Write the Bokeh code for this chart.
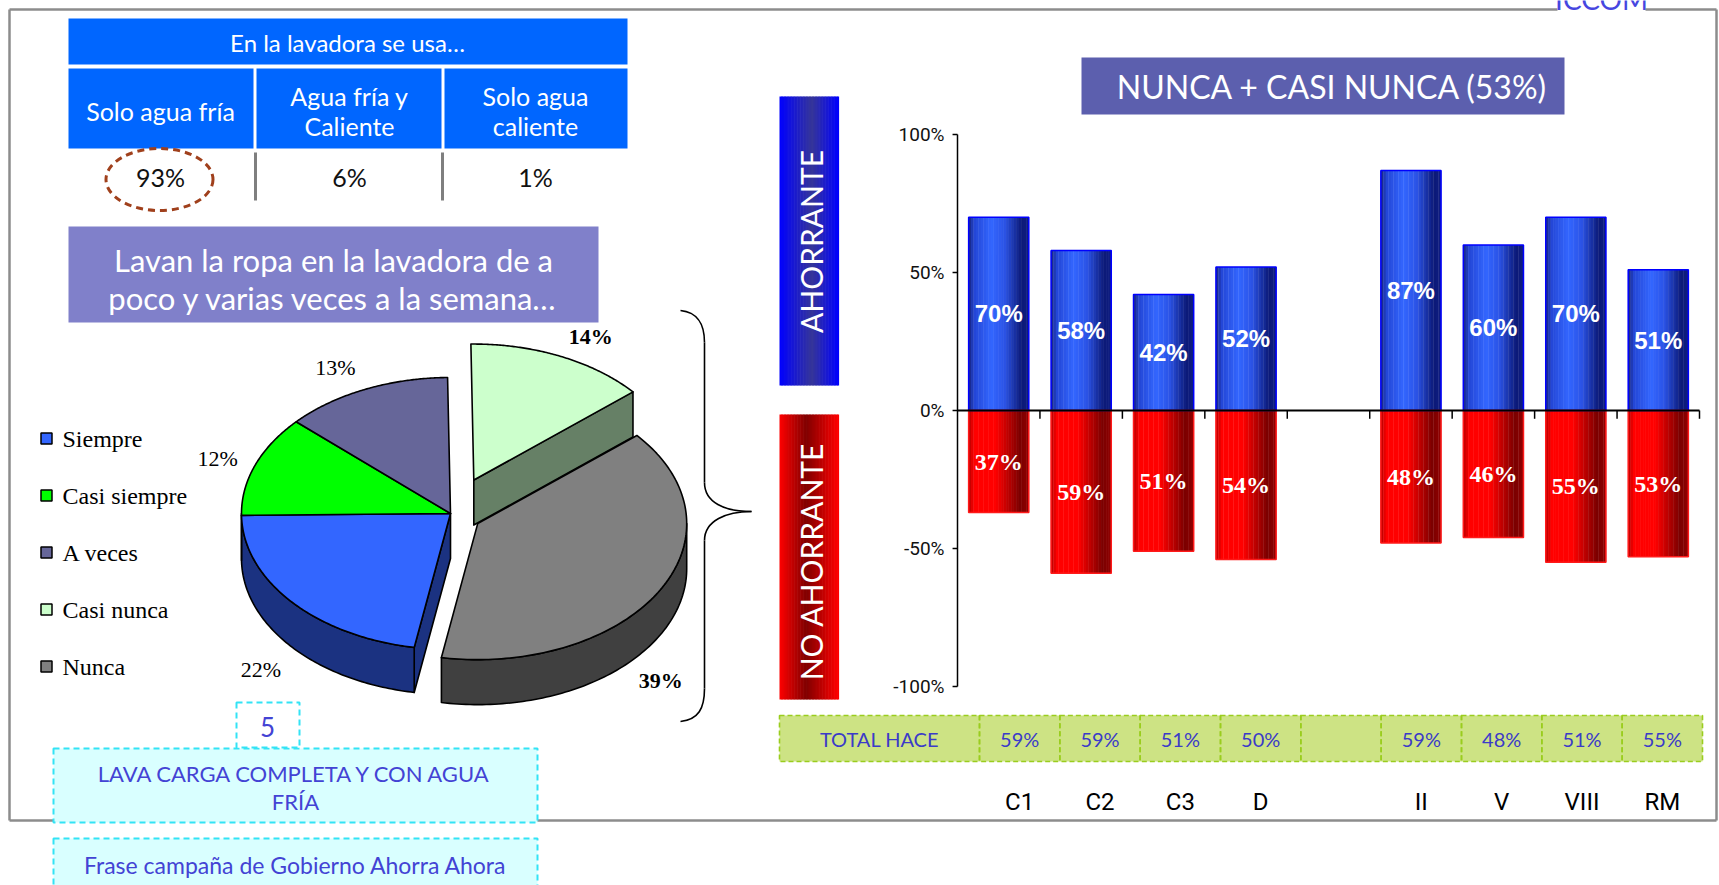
import numpy as np
from bokeh.plotting import figure
from bokeh.models import Range1d
from bokeh.core.properties import value
from bokeh.embed import file_html
from bokeh.resources import INLINE

# ---------------- DATA ----------------
table_title = "En la lavadora se usa…"
water_labels = [["Solo agua fría"], ["Agua fría y", "Caliente"], ["Solo agua", "caliente"]]
water_pct = [93, 6, 1]

freq_title = ["Lavan la ropa en la lavadora de a", "poco y varias veces a la semana…"]
freq_cats = ["Siempre", "Casi siempre", "A veces", "Casi nunca", "Nunca"]
freq_pct = [22, 12, 13, 14, 39]

chart_title = "NUNCA + CASI NUNCA (53%)"
categories = ["C1", "C2", "C3", "D", "", "II", "V", "VIII", "RM"]
ahorrante = [70, 58, 42, 52, None, 87, 60, 70, 51]
no_ahorrante = [37, 59, 51, 54, None, 48, 46, 55, 53]
total_hace = [59, 59, 51, 50, None, 59, 48, 51, 55]
y_ticks = [100, 50, 0, -50, -100]
y_tick_labels = ["100%", "50%", "0%", "-50%", "-100%"]
side_labels = ["AHORRANTE", "NO AHORRANTE"]
total_label = "TOTAL HACE"
action_number = "5"
action_text = ["LAVA CARGA COMPLETA Y CON AGUA", "FRÍA"]
campaign_text = "Frase campaña de Gobierno Ahorra Ahora"
brand = "ICCOM"

# ---------------- FIGURE ----------------
W, H = 1719, 885
p = figure(width=W, height=H, x_range=Range1d(0, W), y_range=Range1d(H, 0),
           output_backend="svg", toolbar_location=None, x_axis_type=None, y_axis_type=None,
           min_border=0, outline_line_color=None, background_fill_color="white",
           border_fill_color="white")


def mapped_range(p0, v0, p1, v1, lo, hi):
    k = (v1 - v0) / (p1 - p0)
    return Range1d(start=v0 + (lo - p0) * k, end=v0 + (hi - p0) * k)


n_cat = len(categories)
p.extra_x_ranges = {"bx": mapped_range(957, 0, 1699, n_cat, 0, W),
                    "tx": mapped_range(979, 0, 1702, n_cat, 0, W)}
p.extra_y_ranges = {"by": mapped_range(134, max(y_ticks), 686, min(y_ticks), H, 0)}


def txt(x, y, s, size, color="black", font="Lato", style="normal", align="center",
        baseline="middle", angle=0, **kw):
    if not isinstance(x, (list, np.ndarray)):
        x, y, s = [x], [y], [s]
    p.text(x=x, y=y, text=s, text_font=value(font), text_font_size=value(f"{size}px"),
           text_color=color, text_font_style=style, text_align=align,
           text_baseline=baseline, angle=angle, **kw)


def hex2rgb(h):
    h = h.lstrip("#")
    return np.array([int(h[i:i + 2], 16) for i in (0, 2, 4)], float)


def grad(stops, t):
    ts = [s[0] for s in stops]
    cs = [hex2rgb(s[1]) for s in stops]
    for k in range(len(ts) - 1):
        if ts[k] <= t <= ts[k + 1]:
            f = (t - ts[k]) / (ts[k + 1] - ts[k])
            c = cs[k] * (1 - f) + cs[k + 1] * f
            return "#%02x%02x%02x" % tuple(int(round(v)) for v in c)
    return stops[-1][1]


# ---------------- OUTER FRAME ----------------
GRAY = "#8C8C8C"
p.segment(x0=[9, 9, 1716, 9, 1645], y0=[9, 820, 9, 9, 9],
          x1=[9, 1716, 1716, 1557, 1716], y1=[820, 820, 820, 9, 9],
          line_color=GRAY, line_width=2.5)
txt(1601, -2, brand, 28, color="#4646E0")

# ---------------- TOP-LEFT TABLE ----------------
BLUE_T = "#0066FF"
p.quad(left=[68], right=[627], top=[18], bottom=[64], fill_color=BLUE_T, line_color=None)
p.quad(left=[68, 256, 444], right=[253, 441, 627], top=[68] * 3, bottom=[148] * 3,
       fill_color=BLUE_T, line_color=None)
txt(347, 42, table_title, 24, color="white")
col_x = [160, 349, 535]
for cx, lines in zip(col_x, water_labels):
    n = len(lines)
    for k, ln in enumerate(lines):
        txt(cx, 110 + (k - (n - 1) / 2) * 30, ln, 25, color="white")
txt(col_x, [176] * 3, [f"{v}%" for v in water_pct], 25, color="#111111")
p.segment(x0=[255, 442], y0=[152, 152], x1=[255, 442], y1=[200, 200],
          line_color="#7F7F7F", line_width=3)
p.ellipse(x=[159], y=[179], width=[107], height=[62], fill_color=None,
          line_color="#A0401C", line_width=3, line_dash="7 5")

# ---------------- PURPLE BOX ----------------
p.quad(left=[68], right=[598], top=[226], bottom=[322], fill_color="#8080CA", line_color=None)
txt([333, 333], [259, 297], freq_title, 31, color="white")

# ---------------- PIE (3D) ----------------
PIE_CX, PIE_CY, RX, RY, DEPTH = 450, 513, 209, 136, 45
START_BEARING = 190
EXPLODE = [0, 0, 0, 0.27, 0.15]
TOP_COLORS = ["#3366FF", "#00FF00", "#666699", "#CCFFCC", "#808080"]
SIDE_COLORS = ["#1B3281", "#008000", "#33334D", "#668066", "#404040"]
LABEL_BOLD = [False, False, False, True, True]
LABEL_NUDGE = [(0, 0), (0, 6), (-13, 10), (14, 12), (-33, 27)]

fr = np.array(freq_pct, float)
ang = fr / fr.sum() * 360
b0 = START_BEARING + np.concatenate([[0], np.cumsum(ang)[:-1]])
b1 = b0 + ang
mid = (b0 + b1) / 2


def pt(b, r=1.0):
    b = np.radians(b)
    return RX * r * np.sin(b), -RY * r * np.cos(b)


offs = [pt(m, e) for m, e in zip(mid, EXPLODE)]
centers = [(PIE_CX + o[0], PIE_CY + o[1]) for o in offs]
n = len(fr)

wall_xs, wall_ys, wall_c = [], [], []
for i in range(n):
    j = (i + 1) % n
    if EXPLODE[i] == EXPLODE[j]:
        continue
    b = b1[i]
    sb = np.sin(np.radians(b))
    for k, sgn in ((i, 1), (j, -1)):
        if sgn * sb > 0.05:
            cx, cy = centers[k]
            ex, ey = pt(b)
            wall_xs.append([cx, cx + ex, cx + ex, cx])
            wall_ys.append([cy, cy + ey, cy + ey + DEPTH, cy + DEPTH])
            wall_c.append(SIDE_COLORS[k])
for i in range(n):
    cx, cy = centers[i]
    for base in (0, 360, 720):
        lo, hi = max(b0[i], 90 + base), min(b1[i], 270 + base)
        if hi > lo:
            bb = np.linspace(lo, hi, 90)
            ex, ey = pt(bb)
            wall_xs.append(list(np.concatenate([cx + ex, (cx + ex)[::-1]])))
            wall_ys.append(list(np.concatenate([cy + ey, (cy + ey + DEPTH)[::-1]])))
            wall_c.append(SIDE_COLORS[i])
p.patches(xs=wall_xs, ys=wall_ys, fill_color=wall_c, line_color="black", line_width=1.6,
          line_join="round")

top_xs, top_ys = [], []
for i in range(n):
    cx, cy = centers[i]
    bb = np.linspace(b0[i], b1[i], 120)
    ex, ey = pt(bb)
    top_xs.append([cx] + list(cx + ex))
    top_ys.append([cy] + list(cy + ey))
p.patches(xs=top_xs, ys=top_ys, fill_color=TOP_COLORS, line_color="black", line_width=1.6,
          line_join="round")

GX, GY = 40, 35
for i in range(n):
    cx, cy = centers[i]
    rb = np.radians(mid[i])
    lx = cx + (RX + GX) * np.sin(rb) + LABEL_NUDGE[i][0]
    ly = cy - (RY + GY) * np.cos(rb) + (DEPTH if np.cos(rb) < 0 else 0) + LABEL_NUDGE[i][1]
    txt(lx, ly, f"{freq_pct[i]:.0f}%", 22, font="Liberation Serif",
        style="bold" if LABEL_BOLD[i] else "normal")

# legend
leg_y = [438 + 57 * i for i in range(n)]
p.rect(x=[46] * n, y=leg_y, width=11, height=11, fill_color=TOP_COLORS,
       line_color="black", line_width=1.5)
txt([62] * n, leg_y, freq_cats, 24, font="Liberation Serif", align="left")

# brace
p.bezier(x0=[680, 704, 751, 704], y0=[310, 482, 511, 688],
         x1=[704, 751, 704, 680], y1=[342, 511, 540, 721],
         cx0=[698, 704, 726, 704], cy0=[312, 502, 511, 708],
         cx1=[704, 724, 704, 698], cy1=[324, 511, 520, 719],
         line_color="black", line_width=1.6)
p.segment(x0=[704, 704], y0=[342, 540], x1=[704, 704], y1=[482, 688],
          line_color="black", line_width=1.6)

# ---------------- SIDE LABEL BOXES ----------------
NS = 40
sl = 779 + np.arange(NS) * (838 - 779) / NS
sr = sl + (838 - 779) / NS + 0.6
tcs = (np.arange(NS) + 0.5) / NS
blue_box = [grad([(0, "#0000FF"), (0.55, "#363698"), (1, "#0000FF")], t) for t in tcs]
red_box = [grad([(0, "#FF0000"), (0.45, "#800000"), (1, "#FF0000")], t) for t in tcs]
p.quad(left=sl, right=sr, top=[96] * NS, bottom=[385] * NS, fill_color=blue_box, line_color=None)
p.quad(left=sl, right=sr, top=[414] * NS, bottom=[699] * NS, fill_color=red_box, line_color=None)
txt(810, 241, side_labels[0], 30, color="white", angle=np.pi / 2)
txt(810, 561, side_labels[1], 30, color="white", angle=np.pi / 2)

# ---------------- CHART TITLE ----------------
p.quad(left=[1081], right=[1564], top=[57], bottom=[114], fill_color="#5C5FAE", line_color=None)
txt(1332, 86, chart_title, 32, color="white")

# ---------------- BARS ----------------
cat_pos = np.arange(n_cat) + 0.5
valid = [i for i, v in enumerate(ahorrante) if v is not None]
bx = cat_pos[valid]
top_b = np.array([ahorrante[i] for i in valid], float)
bot_r = -np.array([no_ahorrante[i] for i in valid], float)

BAR_W = 0.73
NB = 24
offsets = -BAR_W / 2 + (np.arange(NB) + 0.5) * BAR_W / NB
BLUE_STOPS = [(0, "#17257F"), (0.1, "#2447D6"), (0.38, "#3366FF"), (0.6, "#2B53E6"),
              (0.88, "#0C1A78"), (1.0, "#0E1C80")]
RED_STOPS = [(0, "#B80000"), (0.1, "#FF0000"), (0.45, "#FF0000"), (0.86, "#7A0000"),
             (1.0, "#900000")]
bcol = [grad(BLUE_STOPS, t) for t in (np.arange(NB) + 0.5) / NB]
rcol = [grad(RED_STOPS, t) for t in (np.arange(NB) + 0.5) / NB]
sx = (bx[:, None] + offsets[None, :]).ravel()
p.vbar(x=sx, top=np.repeat(top_b, NB), bottom=0, width=BAR_W / NB * 1.15,
       fill_color=bcol * len(bx), line_color=None, x_range_name="bx", y_range_name="by")
p.vbar(x=sx, top=0, bottom=np.repeat(bot_r, NB), width=BAR_W / NB * 1.15,
       fill_color=rcol * len(bx), line_color=None, x_range_name="bx", y_range_name="by")
p.vbar(x=bx, top=top_b, bottom=0, width=BAR_W, fill_color=None, line_color="#0000FF",
       line_width=1.5, x_range_name="bx", y_range_name="by")
p.vbar(x=bx, top=0, bottom=bot_r, width=BAR_W, fill_color=None, line_color="#FF1A1A",
       line_width=1.5, x_range_name="bx", y_range_name="by")

txt(list(bx), list(top_b / 2), [f"{v:.0f}%" for v in top_b], 24, color="white",
    font="Liberation Sans", style="bold", x_range_name="bx", y_range_name="by")
txt(list(bx), list(bot_r / 2), [f"{-v:.0f}%" for v in bot_r], 24, color="white",
    font="Liberation Serif", style="bold", x_range_name="bx", y_range_name="by")

# axes
p.segment(x0=[0], y0=[min(y_ticks)], x1=[0], y1=[max(y_ticks)], line_color="black",
          line_width=1.5, x_range_name="bx", y_range_name="by")
p.segment(x0=[0] * len(y_ticks), y0=y_ticks, x1=[-0.06] * len(y_ticks), y1=y_ticks,
          line_color="black", line_width=1.5, x_range_name="bx", y_range_name="by")
p.segment(x0=[0], y0=[0], x1=[n_cat], y1=[0], line_color="black", line_width=2.2,
          x_range_name="bx", y_range_name="by")
xt = list(np.arange(1, n_cat + 1))
p.segment(x0=xt, y0=[0] * n_cat, x1=xt, y1=[-3] * n_cat, line_color="black",
          line_width=1.5, x_range_name="bx", y_range_name="by")
txt([0] * len(y_ticks), y_ticks, y_tick_labels, 19, color="#111111", font="Roboto",
    align="right", x_offset=-13, x_range_name="bx", y_range_name="by")

# ---------------- TOTAL HACE ROW ----------------
p.quad(left=[779], right=[1702], top=[715], bottom=[761], fill_color="#CDE384", line_color=None)
p.quad(left=[779], right=[979], top=[715], bottom=[761], fill_color=None,
       line_color="#9ACD1E", line_width=1.6, line_dash="5 3")
p.rect(x=cat_pos, y=[738] * n_cat, width=1, height=46, fill_color=None,
       line_color="#9ACD1E", line_width=1.6, line_dash="5 3", x_range_name="tx")
txt(879, 738, total_label, 20, color="#3B3BC8")
tv = [i for i, v in enumerate(total_hace) if v is not None]
txt(list(cat_pos[tv]), [738] * len(tv), [f"{total_hace[i]}%" for i in tv], 20,
    color="#3B3BC8", x_range_name="tx")
cv = [i for i, c in enumerate(categories) if c]
txt(list(cat_pos[cv]), [801] * len(cv), [categories[i] for i in cv], 24, color="black",
    font="Roboto", x_range_name="tx")

# ---------------- BOTTOM-LEFT BOXES ----------------
CYAN = "#33E3F5"
p.quad(left=[53, 53], right=[537, 537], top=[748, 838], bottom=[822, 892],
       fill_color="#D9FFFF", line_color=CYAN, line_width=2, line_dash="6 4")
p.quad(left=[236], right=[299], top=[702], bottom=[747], fill_color="white",
       line_color=CYAN, line_width=2, line_dash="6 4")
txt(267, 726, action_number, 26, color="#4343D4")
txt([295, 295], [773, 801], action_text, 22, color="#4343D4")
txt(295, 864, campaign_text, 23, color="#4343D4")

open("out.html", "w").write(file_html(p, INLINE))
